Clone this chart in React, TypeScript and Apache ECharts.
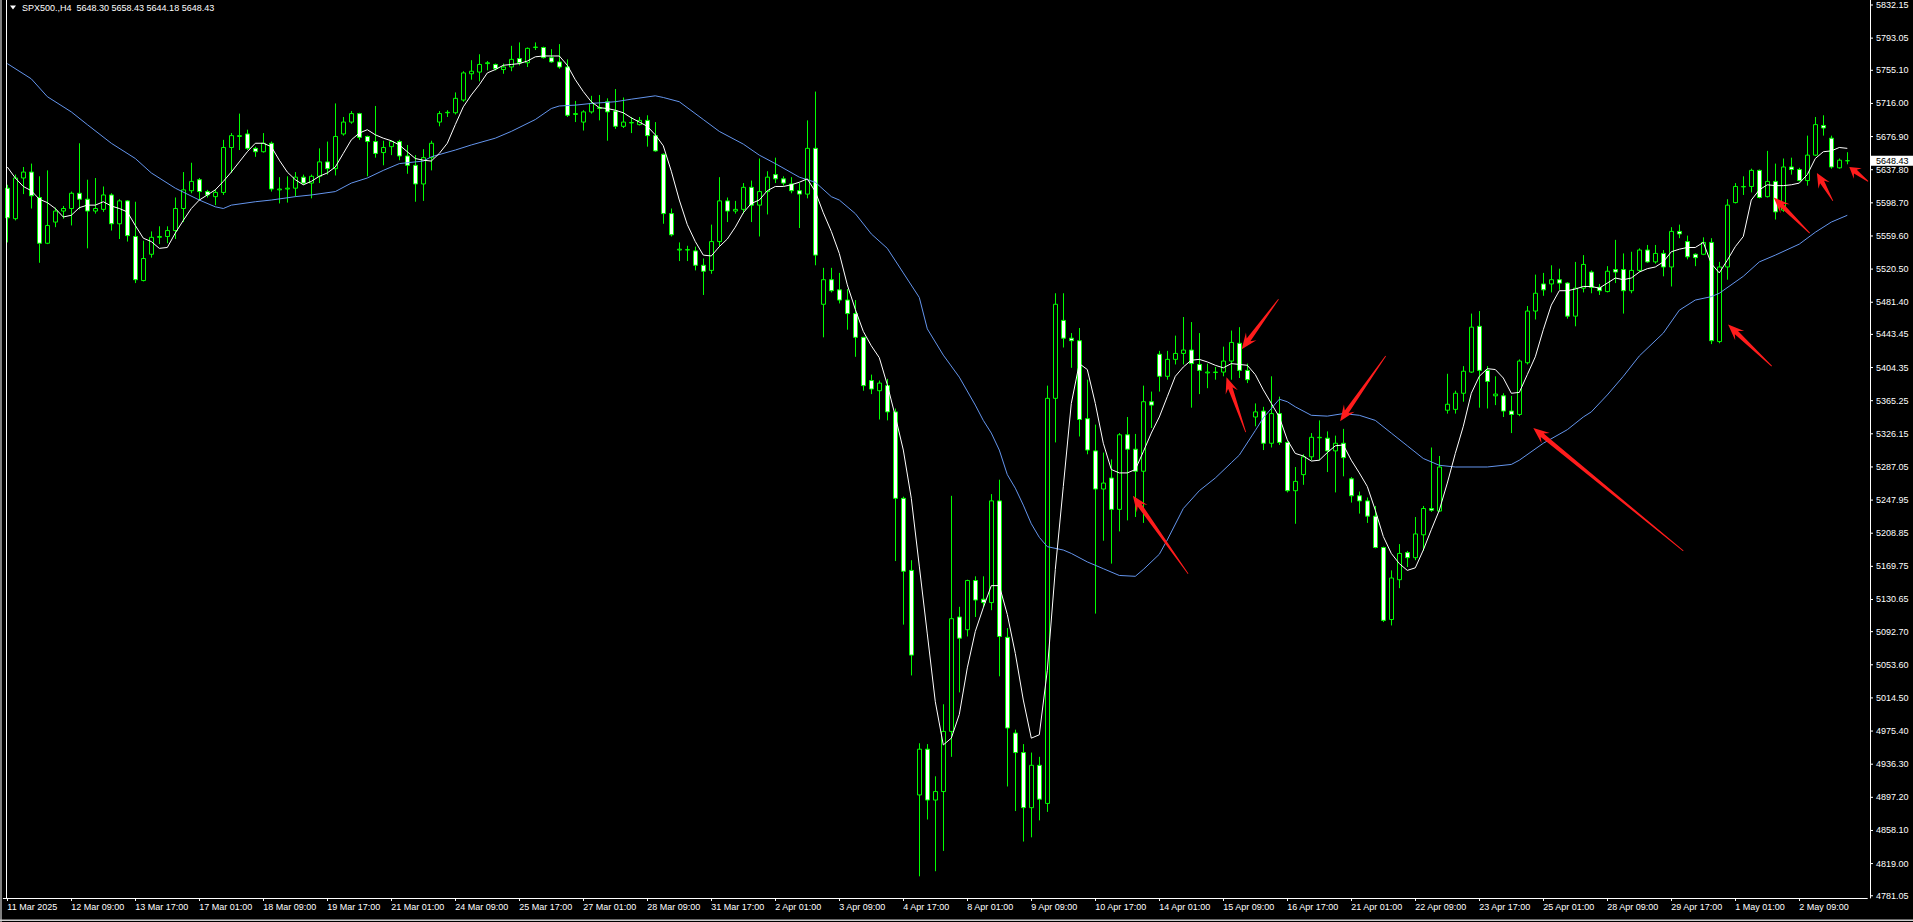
import React, { useEffect, useRef } from "react";
import * as echarts from "echarts";

// ---- data ----
const symbolTitle = "SPX500.,H4";
const lastBar = { open: 5648.3, high: 5658.43, low: 5644.18, close: 5648.43 };

const xLabels = [
  "11 Mar 2025", "12 Mar 09:00", "13 Mar 17:00", "17 Mar 01:00", "18 Mar 09:00", "19 Mar 17:00",
  "21 Mar 01:00", "24 Mar 09:00", "25 Mar 17:00", "27 Mar 01:00", "28 Mar 09:00", "31 Mar 17:00",
  "2 Apr 01:00", "3 Apr 09:00", "4 Apr 17:00", "8 Apr 01:00", "9 Apr 09:00", "10 Apr 17:00",
  "14 Apr 01:00", "15 Apr 09:00", "16 Apr 17:00", "21 Apr 01:00", "22 Apr 09:00", "23 Apr 17:00",
  "25 Apr 01:00", "28 Apr 09:00", "29 Apr 17:00", "1 May 01:00", "2 May 09:00",
];

const yTickLabels = [
  "5832.15", "5793.05", "5755.10", "5716.00", "5676.90", "5637.80", "5598.70", "5559.60",
  "5520.50", "5481.40", "5443.45", "5404.35", "5365.25", "5326.15", "5287.05", "5247.95",
  "5208.85", "5169.75", "5130.65", "5092.70", "5053.60", "5014.50", "4975.40", "4936.30",
  "4897.20", "4858.10", "4819.00", "4781.05",
];

// [open, close, low, high]
const candles: number[][] = [
  [5616, 5581, 5552, 5620], [5580, 5628, 5578, 5632], [5628, 5635, 5609, 5641], [5635, 5607, 5592, 5645],
  [5605, 5551, 5528, 5630], [5551, 5572, 5550, 5637], [5576, 5589, 5570, 5593], [5589, 5592, 5580, 5595],
  [5592, 5610, 5572, 5612], [5610, 5603, 5591, 5669], [5603, 5589, 5545, 5626], [5589, 5592, 5586, 5628],
  [5591, 5608, 5588, 5618], [5608, 5574, 5566, 5610], [5574, 5601, 5556, 5603], [5601, 5560, 5553, 5602],
  [5559, 5508, 5504, 5600], [5507, 5533, 5506, 5554], [5538, 5558, 5534, 5565], [5558, 5559, 5550, 5571],
  [5559, 5566, 5551, 5571], [5566, 5592, 5556, 5605], [5592, 5614, 5576, 5635], [5613, 5624, 5610, 5646],
  [5626, 5612, 5602, 5628], [5612, 5608, 5605, 5614], [5606, 5611, 5596, 5615], [5611, 5664, 5608, 5673],
  [5664, 5678, 5634, 5681], [5677, 5678, 5661, 5704], [5680, 5663, 5661, 5685], [5663, 5659, 5653, 5665],
  [5659, 5669, 5658, 5681], [5669, 5615, 5612, 5671], [5614, 5615, 5598, 5629], [5615, 5616, 5599, 5630],
  [5616, 5629, 5606, 5635], [5629, 5622, 5620, 5632], [5622, 5630, 5604, 5632], [5630, 5647, 5622, 5663],
  [5647, 5639, 5632, 5671], [5639, 5677, 5631, 5716], [5680, 5694, 5678, 5700], [5694, 5704, 5692, 5707],
  [5704, 5676, 5673, 5705], [5677, 5671, 5630, 5678], [5671, 5657, 5652, 5713], [5658, 5664, 5643, 5672],
  [5665, 5671, 5655, 5672], [5671, 5654, 5649, 5673], [5654, 5643, 5633, 5667], [5643, 5621, 5600, 5655],
  [5621, 5652, 5601, 5662], [5652, 5669, 5637, 5672], [5694, 5704, 5689, 5707], [5705, 5705.5, 5700, 5708],
  [5705, 5722, 5703, 5729], [5720, 5752, 5718, 5754], [5751, 5754, 5744, 5767], [5753, 5762, 5742, 5774],
  [5763, 5764, 5755, 5766], [5762, 5757, 5755, 5763], [5756, 5759, 5751, 5763], [5759, 5768, 5754, 5784],
  [5769, 5764, 5761, 5788], [5764, 5781, 5759, 5782], [5782, 5782.5, 5779, 5788], [5782, 5770, 5769, 5783],
  [5770, 5765, 5764, 5780], [5765, 5759, 5757, 5786], [5759, 5702, 5700, 5768], [5703, 5704, 5694, 5719],
  [5694, 5706, 5684, 5708], [5706, 5716, 5704, 5725], [5710, 5711, 5696, 5726], [5718, 5706, 5672, 5722],
  [5707, 5689, 5686, 5733], [5689, 5694, 5687, 5723], [5693, 5693.5, 5681, 5700], [5691, 5696, 5690, 5700],
  [5696, 5678, 5665, 5702], [5678, 5660, 5659, 5694], [5656, 5586, 5574, 5657], [5586, 5561, 5559, 5592],
  [5543, 5544, 5530, 5552], [5543, 5543.5, 5530, 5548], [5542, 5525, 5519, 5547], [5525, 5518, 5490, 5533],
  [5519, 5553, 5515, 5573], [5553, 5601, 5547, 5629], [5601, 5589, 5576, 5605], [5589, 5591, 5586, 5601],
  [5591, 5617, 5586, 5622], [5617, 5596, 5576, 5625], [5596, 5612, 5559, 5651], [5612, 5629, 5585, 5636],
  [5632, 5627, 5622, 5652], [5627, 5622, 5619, 5630], [5621, 5613, 5610, 5629], [5613, 5609, 5569, 5622],
  [5609, 5663, 5604, 5696], [5663, 5537, 5525, 5730], [5479, 5508, 5440, 5522], [5508, 5495, 5493, 5522],
  [5496, 5484, 5480, 5516], [5484, 5468, 5449, 5497], [5468, 5440, 5417, 5484], [5440, 5383, 5377, 5440.5],
  [5389, 5379, 5373, 5396], [5377, 5386, 5343, 5389], [5383, 5352, 5342, 5391], [5352, 5250, 5176, 5356],
  [5250, 5164, 5101, 5252], [5165, 5065, 5041, 5177], [4900, 4954, 4804, 4961], [4954, 4894, 4871, 4960],
  [4894, 4904, 4810, 4922], [4904, 4975, 4834, 5007], [4975, 5108, 4945, 5253], [5110, 5085, 5021, 5122],
  [5095, 5153, 5087, 5154], [5153, 5130, 5110, 5158], [5131, 5127, 5121, 5158], [5127, 5247, 5118, 5255],
  [5247, 5087, 5040, 5272], [5086, 4979, 4910, 5097], [4973, 4950, 4881, 4977], [4950, 4885, 4845, 4960],
  [4885, 4935, 4850, 4950], [4935, 4895, 4870, 4945], [4890, 5368, 4880, 5383], [5368, 5479, 5316, 5492],
  [5460, 5439, 5428, 5492], [5439, 5436, 5404, 5445], [5436, 5343, 5323, 5451], [5344, 5307, 5302, 5390],
  [5306, 5261, 5114, 5337], [5261, 5268, 5200, 5304], [5274, 5237, 5173, 5296], [5237, 5325, 5211, 5327],
  [5325, 5308, 5224, 5346], [5308, 5282, 5228, 5326], [5282, 5364, 5221, 5383], [5364, 5360, 5333, 5376],
  [5420, 5394, 5376, 5424], [5394, 5414, 5390, 5424], [5414, 5421, 5408, 5442], [5421, 5425, 5408, 5464],
  [5425, 5409, 5357, 5458], [5408, 5401, 5373, 5445], [5398, 5399, 5380, 5409], [5398.5, 5399, 5390, 5405],
  [5399, 5412, 5394, 5429], [5412, 5434, 5390, 5448], [5433, 5401, 5392, 5452], [5401, 5390, 5386, 5409],
  [5346, 5352, 5335, 5362], [5353, 5315, 5307, 5358], [5315, 5350, 5310, 5394], [5350, 5316, 5313, 5370],
  [5316, 5259, 5257, 5317], [5259, 5270, 5220, 5287], [5278, 5299, 5266, 5302], [5299, 5322, 5295, 5327],
  [5321.5, 5322, 5295, 5342], [5321, 5306, 5281, 5329], [5306, 5315, 5257, 5324], [5315, 5298, 5276, 5332],
  [5273, 5253, 5245, 5275], [5253, 5247, 5232, 5258], [5247, 5229, 5221, 5251], [5229, 5192, 5191, 5241],
  [5192, 5106, 5104, 5193], [5107, 5156, 5100, 5165], [5154, 5185, 5144, 5196], [5186, 5180, 5169, 5188],
  [5180, 5208, 5177, 5228], [5207, 5238, 5188, 5241], [5238, 5236, 5234, 5310], [5235, 5287, 5234, 5300],
  [5354, 5361, 5350, 5397], [5355, 5374, 5350, 5377], [5374, 5400, 5364, 5406], [5399, 5452, 5398, 5468],
  [5453, 5401, 5357, 5471], [5401, 5388, 5356, 5406], [5371, 5373, 5360, 5394], [5371, 5353, 5346, 5374],
  [5353, 5349, 5327, 5371], [5349, 5412, 5347, 5414], [5410, 5471, 5408, 5477], [5471, 5492, 5461, 5514],
  [5503, 5496, 5489, 5516], [5503, 5508, 5493, 5525], [5508, 5504, 5496, 5521], [5504, 5465, 5462, 5505],
  [5465, 5498, 5453, 5529], [5498, 5526, 5493, 5537], [5517, 5499, 5492, 5519], [5499, 5495, 5490, 5503],
  [5494, 5518, 5493, 5524], [5520, 5517, 5504, 5555], [5520, 5495, 5468, 5539], [5495, 5519, 5492, 5541],
  [5519, 5543, 5517, 5545], [5543, 5529, 5528, 5549], [5529, 5539, 5527, 5549], [5539, 5523, 5512, 5543],
  [5523, 5565, 5500, 5570], [5565, 5562, 5557, 5573], [5553, 5535, 5532, 5560], [5538, 5534, 5524, 5539],
  [5538, 5552, 5537, 5558], [5552, 5436, 5432, 5557], [5435, 5523, 5433, 5529], [5523, 5596, 5508, 5603],
  [5599, 5618, 5598, 5622], [5617.5, 5618, 5608, 5630], [5618, 5637, 5611, 5639], [5637, 5605, 5604, 5638],
  [5606, 5624, 5605, 5660], [5624, 5588, 5579, 5645], [5590, 5641, 5588, 5651], [5641, 5638, 5632, 5652],
  [5638, 5625, 5624, 5640], [5625, 5655, 5619, 5678], [5655, 5691, 5654, 5700], [5690, 5687, 5678, 5702],
  [5675, 5641, 5639, 5678], [5640, 5649, 5639, 5651],
  [lastBar.open, lastBar.close, lastBar.low, lastBar.high],
];

// short moving average (white), one reading per bar
const maFast: number[] = [
  5641, 5628, 5618, 5613, 5603, 5599, 5592, 5582, 5584, 5593,
  5596, 5596, 5600, 5595, 5592, 5588, 5572, 5557, 5553, 5545,
  5546, 5563, 5578, 5592, 5602, 5608, 5614, 5624, 5635, 5647,
  5659, 5669, 5669, 5665, 5649, 5635, 5626, 5620, 5624, 5630,
  5634, 5641, 5657, 5673, 5681, 5685, 5679, 5675, 5672, 5667,
  5659, 5651, 5649, 5648, 5657, 5669, 5691, 5712, 5726, 5738,
  5752, 5756, 5761, 5762, 5763, 5766, 5771, 5772, 5772, 5772,
  5761, 5744, 5730, 5718, 5711, 5710, 5708, 5705, 5699, 5694,
  5689, 5679, 5666, 5636, 5602, 5573, 5553, 5537, 5536, 5547,
  5556, 5570, 5587, 5598, 5602, 5613, 5618, 5618, 5620, 5623,
  5627, 5612, 5587, 5565, 5539, 5502, 5473, 5447, 5430, 5416,
  5384, 5347, 5307, 5250, 5170, 5090, 5010, 4959, 4967, 4995,
  5050, 5093, 5121, 5147, 5147, 5113, 5067, 5012, 4967, 4971,
  5047, 5166, 5264, 5362, 5409, 5402, 5362, 5315, 5284, 5280,
  5280, 5284, 5305, 5327, 5346, 5370, 5394, 5405, 5413, 5414,
  5411, 5407, 5404, 5409, 5408, 5407, 5396, 5378, 5362, 5346,
  5319, 5303, 5300, 5294, 5295, 5304, 5312, 5313, 5295, 5280,
  5264, 5236, 5205, 5185, 5173, 5165, 5168, 5189, 5213, 5236,
  5268, 5303, 5335, 5374, 5394, 5403, 5402, 5392, 5374, 5375,
  5396, 5417, 5449, 5478, 5495, 5495, 5497, 5500, 5500, 5498,
  5504, 5510, 5508, 5510, 5517, 5521, 5523, 5529, 5541, 5544,
  5546, 5546, 5552, 5527, 5516, 5531, 5547, 5559, 5602, 5614,
  5620, 5619, 5619, 5620, 5622, 5632, 5651, 5659, 5660, 5664,
  5663,
];

// long moving average (blue), readings [bar, value]
const maSlow: number[][] = [
  [0, 5763], [3, 5745], [5, 5724], [8, 5706], [10, 5691], [13, 5669], [16, 5651], [18, 5634],
  [21, 5616], [24, 5602], [26, 5594], [27, 5592], [28, 5596], [31, 5600], [33, 5602], [36, 5606],
  [38, 5608], [41, 5612], [43, 5622], [45, 5628], [47, 5637], [49, 5645], [52, 5648], [53, 5653],
  [56, 5661], [58, 5667], [61, 5675], [63, 5683], [66, 5697], [68, 5710], [69, 5713], [71, 5714],
  [73, 5716], [76, 5718], [78, 5721], [81, 5725], [82, 5723], [84, 5718], [87, 5697], [89, 5683],
  [92, 5668], [94, 5655], [96, 5645], [99, 5629], [101, 5623], [103, 5606], [104, 5602], [106, 5586],
  [108, 5562], [110, 5545], [112, 5516], [114, 5487], [115, 5450], [117, 5419], [119, 5393], [121, 5360],
  [122, 5342], [123, 5327], [124, 5307], [125, 5278], [126, 5262], [127, 5242], [128, 5220], [129, 5204],
  [130, 5193], [132, 5189], [133, 5185], [135, 5175], [137, 5167], [139, 5159], [141, 5158], [142, 5166],
  [144, 5184], [145, 5201], [147, 5238], [149, 5259], [151, 5274], [153, 5292], [154, 5301], [156, 5330],
  [157, 5345], [159, 5367], [160, 5364], [161, 5358], [163, 5348], [165, 5347], [167, 5350], [169, 5348],
  [171, 5342], [173, 5327], [175, 5312], [177, 5297], [179, 5289], [181, 5287], [185, 5287], [188, 5290],
  [189, 5295], [192, 5315], [195, 5331], [197, 5346], [198, 5352], [200, 5372], [202, 5394], [204, 5418],
  [207, 5445], [209, 5472], [211, 5484], [213, 5488], [214, 5492], [217, 5512], [219, 5529], [221, 5537],
  [224, 5550], [226, 5564], [228, 5576], [230, 5584],
];

// red annotation arrows: [tipBar, tipPrice, tailBar, tailPrice]
const arrows: number[][] = [
  [140.7, 5253, 147.6, 5161],
  [154.3, 5426, 158.9, 5485],
  [152.4, 5393, 154.8, 5328],
  [166.6, 5341, 172.3, 5418],
  [190.75, 5333, 209.5, 5188],
  [215.1, 5455, 220.55, 5406],
  [220.8, 5605, 225.3, 5563],
  [226.2, 5634, 228.2, 5601],
  [230.25, 5641, 232.6, 5624],
];

const N_SLOTS = 233;
const BARS_PER_LABEL = 8;
const Y_MIN = 4778.4;
const Y_MAX = 5838.05;
const FONT = "Liberation Sans, Arial, sans-serif";

export default function App() {
  const ref = useRef<HTMLDivElement>(null);

  useEffect(() => {
    const el = ref.current;
    if (!el) return;
    const chart = echarts.init(el, undefined, { renderer: "svg" });
    const cats = Array.from({ length: N_SLOTS }, (_, i) =>
      i % BARS_PER_LABEL === 0 && xLabels[i / BARS_PER_LABEL] ? xLabels[i / BARS_PER_LABEL] : ""
    );
    const showIdx = (i: number) => i % BARS_PER_LABEL === 0 && i / BARS_PER_LABEL < xLabels.length;

    chart.setOption({
      animation: false,
      backgroundColor: "#000000",
      grid: { left: 3.3, right: 45.7, top: 0, bottom: 24, containLabel: false },
      xAxis: {
        type: "category",
        data: cats,
        boundaryGap: true,
        axisLine: { show: true, lineStyle: { color: "#ffffff", width: 1 } },
        axisTick: { show: true, alignWithLabel: true, interval: showIdx, length: 3, lineStyle: { color: "#ffffff" } },
        axisLabel: { interval: showIdx, align: "left", color: "#ffffff", fontFamily: FONT, fontSize: 9, margin: 4 },
        splitLine: { show: false },
      },
      yAxis: {
        type: "value",
        position: "right",
        min: Y_MIN,
        max: Y_MAX,
        offset: 3,
        axisLine: { show: true, lineStyle: { color: "#ffffff", width: 1 } },
        axisTick: { show: false },
        axisLabel: { show: false },
        splitLine: { show: false },
      },
      series: [
        {
          type: "candlestick",
          data: candles,
          barWidth: 4,
          itemStyle: {
            color: "#000000",
            color0: "#ffffff",
            borderColor: "#00ff00",
            borderColor0: "#00ff00",
            borderWidth: 1,
          },
          z: 2,
        },
        {
          type: "line",
          data: maSlow,
          showSymbol: false,
          symbol: "none",
          lineStyle: { color: "#6495ed", width: 1 },
          z: 3,
        },
        {
          type: "line",
          data: maFast,
          showSymbol: false,
          symbol: "none",
          lineStyle: { color: "#ffffff", width: 1 },
          z: 4,
        },
      ],
    });

    const p0 = chart.convertToPixel({ xAxisIndex: 0, yAxisIndex: 0 }, [0, Y_MAX]) as number[];
    const p1 = chart.convertToPixel({ xAxisIndex: 0, yAxisIndex: 0 }, [1, Y_MAX]) as number[];
    const step = p1[0] - p0[0];
    const toPx = (bar: number, price: number) => {
      const py = chart.convertToPixel({ yAxisIndex: 0 }, price) as number;
      return [p0[0] + bar * step, py];
    };
    const axisX = 1870;

    const elements: any[] = [];
    // y labels + ticks
    yTickLabels.forEach((s) => {
      const y = toPx(0, parseFloat(s))[1];
      elements.push({ type: "line", shape: { x1: axisX, y1: y, x2: axisX + 3, y2: y }, style: { stroke: "#ffffff", lineWidth: 1 }, silent: true });
      elements.push({ type: "text", x: axisX + 6, y, style: { text: s, fill: "#ffffff", font: `9px ${FONT}`, align: "left", verticalAlign: "middle" }, silent: true });
    });
    // current price tag
    const cy = toPx(0, lastBar.close)[1];
    elements.push({ type: "rect", shape: { x: axisX + 1, y: cy - 5, width: 43, height: 10 }, style: { fill: "#ffffff" }, z: 10 });
    elements.push({ type: "text", x: axisX + 6, y: cy, style: { text: lastBar.close.toFixed(2), fill: "#000000", font: `9px ${FONT}`, align: "left", verticalAlign: "middle" }, z: 11 });
    // header
    elements.push({ type: "polygon", shape: { points: [[10, 5.5], [16, 5.5], [13, 9.5]] }, style: { fill: "#ffffff" } });
    elements.push({
      type: "text", x: 22, y: 7.5,
      style: {
        text: `${symbolTitle}\u00a0\u00a0${lastBar.open.toFixed(2)} ${lastBar.high.toFixed(2)} ${lastBar.low.toFixed(2)} ${lastBar.close.toFixed(2)}`,
        fill: "#ffffff", font: `9px ${FONT}`, align: "left", verticalAlign: "middle",
      },
    });
    // window borders
    elements.push({ type: "rect", shape: { x: 0, y: 0, width: 2, height: 922 }, style: { fill: "#808080" } });
    elements.push({ type: "rect", shape: { x: 6, y: 0, width: 1, height: 898 }, style: { fill: "#ffffff" }, z: 5 });
    elements.push({ type: "rect", shape: { x: 0, y: 919.5, width: 1913, height: 1.5 }, style: { fill: "#d0d0d0" } });
    // arrows
    arrows.forEach(([tb, tp, sb, sp]) => {
      const tip = toPx(tb, tp);
      const tail = toPx(sb, sp);
      const dx = tip[0] - tail[0];
      const dy = tip[1] - tail[1];
      const len = Math.hypot(dx, dy) || 1;
      const ux = dx / len, uy = dy / len;
      const nx = -uy, ny = ux;
      const hl = Math.min(16, len * 0.45);
      const hw = 6.5;
      const sw = 2.3;
      const tw = 0.4;
      const pt = (d: number, w: number, base: number[]) => [base[0] + ux * d + nx * w, base[1] + uy * d + ny * w];
      const points = [
        tip,
        pt(-hl, hw, tip),
        pt(-hl * 0.72, sw, tip),
        pt(0, tw, tail),
        pt(0, -tw, tail),
        pt(-hl * 0.72, -sw, tip),
        pt(-hl, -hw, tip),
      ];
      elements.push({ type: "polygon", shape: { points }, style: { fill: "#ff1c1c" }, z: 20 });
    });

    chart.setOption({ graphic: { elements } });

    return () => {
      chart.dispose();
    };
  }, []);

  return (
    <div
      ref={ref}
      style={{ position: "fixed", left: 0, top: 0, width: 1913, height: 922, background: "#000" }}
    />
  );
}
